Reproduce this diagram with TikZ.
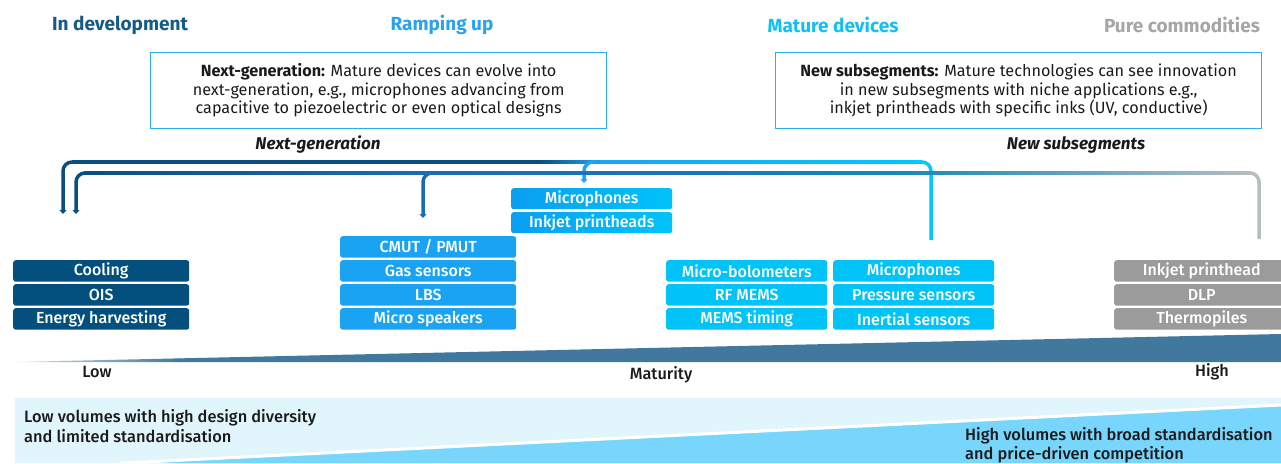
\documentclass[tikz,border=0pt]{standalone}
\usepackage{fontspec}
\setmainfont{Fira Sans}
\newfontfamily\medfont{Fira Sans Medium}
\usetikzlibrary{arrows.meta}
\definecolor{navy}{HTML}{03507F}
\definecolor{titlenavy}{HTML}{155A8A}
\definecolor{rampblue}{HTML}{1AA3F2}
\definecolor{ramptitle}{HTML}{2AA2F0}
\definecolor{maturecyan}{HTML}{00C3F7}
\definecolor{maturetitle}{HTML}{12C0F2}
\definecolor{commgray}{HTML}{9B9B9B}
\definecolor{commtitle}{HTML}{A6A6A6}
\definecolor{boxborder}{HTML}{2AAEF0}
\definecolor{wedgeblue}{HTML}{41789E}
\definecolor{wedgelight}{HTML}{D2E0EA}
\definecolor{bandlight}{HTML}{E1F5FD}
\definecolor{banddark}{HTML}{78D5FC}
\definecolor{txt}{HTML}{1A1A1A}
\definecolor{lnavy}{HTML}{0B4F80}
\definecolor{lmid}{HTML}{1A6CB3}
\definecolor{lmid2}{HTML}{1A74BA}
\definecolor{lteal}{HTML}{1689B8}
\definecolor{lgrayblue}{HTML}{6FA7BF}
\definecolor{lgray}{HTML}{B6BDBD}
\definecolor{llight}{HTML}{1AA5F5}
\definecolor{lcyan}{HTML}{00C8FF}
\definecolor{micleft}{HTML}{0A9FF0}
\definecolor{micright}{HTML}{00C3FA}
\tikzset{
  cell/.style={rounded corners=2.5pt, minimum height=21.5pt, inner sep=0pt,
    text=white, font=\medfont\fontsize{16}{18}\selectfont, anchor=north west},
  stagetitle/.style={font=\bfseries\fontsize{19}{22}\selectfont},
  infobox/.style={draw=boxborder, line width=1.3pt, minimum width=456pt, minimum height=76pt,
    anchor=north west, align=center, text=txt, font=\fontsize{16.2}{18.5}\selectfont, inner sep=0pt},
  flowlabel/.style={font=\bfseries\itshape\fontsize{17}{19}\selectfont, text=txt},
  axislabel/.style={font=\medfont\fontsize{16.3}{18}\selectfont, text=txt},
  bandtext/.style={font=\medfont\fontsize{16.4}{19.5}\selectfont, text=txt, align=left, anchor=west, inner sep=0pt},
  flow/.style={line width=3.5pt, rounded corners=9pt},
  tip/.style={-{Triangle[width=7pt,length=4pt]}},
}
\begin{document}
\begin{tikzpicture}[x=1pt,y=-1pt]
\useasboundingbox (0,0) rectangle (1281,463);
\clip (0,0) rectangle (1281,463);

% stage titles
\node[stagetitle, text=titlenavy] (tdev) at (120,25) {In development};
\node[stagetitle, text=ramptitle] (tramp) at (442,25) {Ramping up};
\node[stagetitle, text=maturetitle] (tmat) at (833,25) {Mature devices};
\node[stagetitle, text=commtitle] (tcomm) at (1182,25) {Pure commodities};

% info boxes
\node[infobox] (boxgen) at (150,52) {\textbf{Next-generation:} Mature devices can evolve into\\next-generation, e.g., microphones advancing from\\capacitive to piezoelectric or even optical designs};
\node[infobox, minimum width=486pt] (boxsub) at (775,52) {\textbf{New subsegments:} Mature technologies can see innovation\\in new subsegments with niche applications e.g.,\\inkjet printheads with specific inks (UV, conductive)};

\node[flowlabel] (lgen) at (318,145) {Next-generation};
\node[flowlabel] (lsub) at (1076,145) {New subsegments};

% cells: in development
\node[cell, fill=navy, minimum width=176pt] (cool) at (13,260) {Cooling};
\node[cell, fill=navy, minimum width=176pt] (ois) at (13,284) {OIS};
\node[cell, fill=navy, minimum width=176pt] (energy) at (13,308) {Energy harvesting};
% ramping up
\node[cell, fill=rampblue, minimum width=176pt] (cmut) at (340,236) {CMUT / PMUT};
\node[cell, fill=rampblue, minimum width=176pt] (gas) at (340,260) {Gas sensors};
\node[cell, fill=rampblue, minimum width=176pt] (lbs) at (340,284) {LBS};
\node[cell, fill=rampblue, minimum width=176pt] (spk) at (340,308) {Micro speakers};
% next-generation items
\node[cell, left color=micleft, right color=micright, minimum width=161pt, minimum height=21pt] (mic1) at (511,188) {Microphones};
\node[cell, left color=micleft, right color=micright, minimum width=161pt, minimum height=21pt] (ink1) at (511,212) {Inkjet printheads};
% mature
\node[cell, fill=maturecyan, minimum width=161pt] (bolo) at (666,260) {Micro-bolometers};
\node[cell, fill=maturecyan, minimum width=161pt] (rf) at (666,284) {RF MEMS};
\node[cell, fill=maturecyan, minimum width=161pt] (timing) at (666,308) {MEMS timing};
\node[cell, fill=maturecyan, minimum width=161pt] (mic2) at (833,260) {Microphones};
\node[cell, fill=maturecyan, minimum width=161pt] (press) at (833,284) {Pressure sensors};
\node[cell, fill=maturecyan, minimum width=161pt] (inert) at (833,308) {Inertial sensors};
% commodities
\node[cell, fill=commgray, minimum width=175pt] (inkc) at (1114,260) {Inkjet printhead};
\node[cell, fill=commgray, minimum width=175pt] (dlp) at (1114,284) {DLP};
\node[cell, fill=commgray, minimum width=175pt] (thermo) at (1114,308) {Thermopiles};

% flow coordinates
\coordinate (matA) at (931,240);
\coordinate (tipA) at (63,214);
\coordinate (tipMic) at (584,183);
\coordinate (commB) at (1259,239);
\coordinate (tipB) at (76,214);
\coordinate (tipCmut) at (423,218);

% line A (y = 162)
\shade[left color=lnavy, right color=lnavy] (72,160.25) rectangle (541,163.75);
\shade[left color=lnavy, right color=llight] (540,160.25) rectangle (601,163.75);
\shade[left color=llight, right color=lcyan] (600,160.25) rectangle (922,163.75);
\draw[flow, lnavy, tip] (75,162) -| (tipA);
\draw[flow, llight, tip] (596,162) -| (tipMic);
\draw[flow, lcyan] (919,162) -| (matA);

% line B (y = 173)
\draw[flow, lnavy, tip] (88,173) -| (tipB);
\draw[flow, lmid, tip] (435,173) -| (tipCmut);
\draw[flow, lgray] (1247,173) -| (commB);
\shade[left color=lnavy, right color=lmid] (84,171.25) rectangle (421,174.75);
\shade[left color=lmid, right color=lmid2] (420,171.25) rectangle (701,174.75);
\shade[left color=lmid2, right color=lteal] (700,171.25) rectangle (901,174.75);
\shade[left color=lteal, right color=lgrayblue] (900,171.25) rectangle (1101,174.75);
\shade[left color=lgrayblue, right color=lgray] (1100,171.25) rectangle (1251,174.75);

% maturity wedge
\shade[left color=wedgelight, right color=wedgeblue] (15,362) -- (180,358.35) -- (180,362) -- cycle;
\fill[wedgeblue] (179,358.37) -- (1281,334) -- (1281,362) -- (179,362) -- cycle;
\node[axislabel] (low) at (97,372) {Low};
\node[axislabel] (mat) at (661,375) {Maturity};
\node[axislabel] (high) at (1212,372) {High};

% bottom band
\fill[bandlight] (15,398) rectangle (1281,463);
\fill[banddark] (125,463) -- (1281,405) -- (1281,463) -- cycle;
\draw[white, line width=3pt] (120,463.25) -- (1290,404.55);
\node[bandtext] (lowvol) at (24,426) {Low volumes with high design diversity\\and limited standardisation};
\node[bandtext] (highvol) at (965,445) {High volumes with broad standardisation\\and price-driven competition};
\end{tikzpicture}
\end{document}
